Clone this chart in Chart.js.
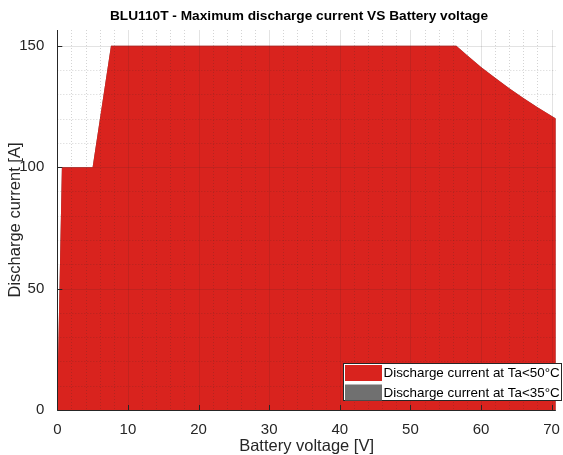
<!DOCTYPE html>
<html>
<head>
<meta charset="utf-8">
<script src="https://cdn.jsdelivr.net/npm/chart.js@4/dist/chart.umd.min.js"></script>
<style>
  html, body { margin: 0; padding: 0; background: #fff; }
  canvas { display: block; }
</style>
</head>
<body>
<canvas id="chart" width="563" height="455"></canvas>
<script>
// ---------------- DATA ----------------
const voltage50 = [0, 0.65, 5.0, 7.6, 56.5, 58, 60, 62, 64, 66, 68, 70.6];
const current50 = [5, 100, 100, 150, 150, 146.2, 141.3, 136.8, 132.5, 128.5, 124.7, 120.1];
// Ta<35 series sits fully hidden behind the red one
const voltage35 = [0, 0.65, 5.0, 7.6, 56.5, 58, 60, 62, 64, 66, 68, 70.6];
const current35 = [5, 100, 100, 150, 150, 146.2, 141.3, 136.8, 132.5, 128.5, 124.7, 120.1];

const xTicks = [0, 10, 20, 30, 40, 50, 60, 70];
const yTicks = [0, 50, 100, 150];
const xMinor = [2, 4, 6, 8, 12, 14, 16, 18, 22, 24, 26, 28, 32, 34, 36, 38, 42, 44, 46, 48, 52, 54, 56, 58, 62, 64, 66, 68];
const yMinor = [10, 20, 30, 40, 60, 70, 80, 90, 110, 120, 130, 140];
const seriesNames = ['Discharge current at Ta<50°C', 'Discharge current at Ta<35°C'];

const RED = 'rgb(217,35,30)';
const GRAY = 'rgb(112,112,112)';
const FONT = '"Liberation Sans", Arial, sans-serif';

const toPts = (xs, ys) => xs.map((x, i) => ({ x: x, y: ys[i] }));

// -------- grid, axes, ticks, title, legend (MATLAB look) --------
const matlabPlugin = {
  id: 'matlab',
  afterDatasetsDraw(chart) {
    const { ctx, chartArea: a, scales: { x, y } } = chart;
    ctx.save();
    // minor grid (dotted)
    ctx.strokeStyle = 'rgba(38,38,38,0.2)';
    ctx.lineWidth = 1;
    ctx.setLineDash([1, 2]);
    xMinor.forEach(v => {
      const px = Math.round(x.getPixelForValue(v)) + 0.5;
      ctx.beginPath(); ctx.moveTo(px, a.top); ctx.lineTo(px, a.bottom); ctx.stroke();
    });
    yMinor.forEach(v => {
      const py = Math.round(y.getPixelForValue(v)) + 0.5;
      ctx.beginPath(); ctx.moveTo(a.left, py); ctx.lineTo(a.right, py); ctx.stroke();
    });
    // major grid
    ctx.setLineDash([]);
    ctx.strokeStyle = 'rgba(38,38,38,0.13)';
    xTicks.forEach(v => {
      const px = Math.round(x.getPixelForValue(v)) + 0.5;
      ctx.beginPath(); ctx.moveTo(px, a.top); ctx.lineTo(px, a.bottom); ctx.stroke();
    });
    yTicks.forEach(v => {
      const py = Math.round(y.getPixelForValue(v)) + 0.5;
      ctx.beginPath(); ctx.moveTo(a.left, py); ctx.lineTo(a.right, py); ctx.stroke();
    });
    // axis lines + inward ticks
    ctx.strokeStyle = '#262626';
    ctx.beginPath();
    ctx.moveTo(Math.round(a.left) + 0.5, a.top);
    ctx.lineTo(Math.round(a.left) + 0.5, Math.round(a.bottom) + 0.5);
    ctx.lineTo(a.right, Math.round(a.bottom) + 0.5);
    ctx.stroke();
    xTicks.forEach(v => {
      const px = Math.round(x.getPixelForValue(v)) + 0.5;
      ctx.beginPath(); ctx.moveTo(px, a.bottom); ctx.lineTo(px, a.bottom - 5); ctx.stroke();
    });
    yTicks.forEach(v => {
      const py = Math.round(y.getPixelForValue(v)) + 0.5;
      ctx.beginPath(); ctx.moveTo(a.left, py); ctx.lineTo(a.left + 5, py); ctx.stroke();
    });
    ctx.restore();
  },
  afterDraw(chart) {
    const { ctx } = chart;
    ctx.save();
    // title
    ctx.fillStyle = '#000';
    ctx.font = 'bold 13.7px ' + FONT;
    ctx.textAlign = 'center';
    ctx.textBaseline = 'middle';
    ctx.fillText('BLU110T - Maximum discharge current VS Battery voltage', 299, 16);

    // legend box
    const lx = 343.5, ly = 363.5, lw = 218, lh = 37;
    ctx.fillStyle = '#fff';
    ctx.fillRect(lx, ly, lw, lh);
    ctx.strokeStyle = '#262626';
    ctx.lineWidth = 1;
    ctx.strokeRect(lx, ly, lw, lh);
    const colors = [RED, GRAY];
    ctx.font = '13.4px ' + FONT;
    ctx.textAlign = 'left';
    seriesNames.forEach((name, i) => {
      const ry = 365 + i * 19.5;
      ctx.fillStyle = colors[i];
      ctx.fillRect(345, ry, 37, 16);
      ctx.fillStyle = '#000';
      ctx.fillText(name, 383.5, ry + 8.5);
    });
    ctx.restore();
  }
};

new Chart(document.getElementById('chart'), {
  type: 'line',
  data: {
    datasets: [
      {
        label: seriesNames[0],
        data: toPts(voltage50, current50),
        backgroundColor: RED,
        borderColor: RED,
        borderWidth: 0,
        pointRadius: 0,
        fill: 'origin',
        order: 0
      },
      {
        label: seriesNames[1],
        data: toPts(voltage35, current35),
        backgroundColor: GRAY,
        borderColor: GRAY,
        borderWidth: 0,
        pointRadius: 0,
        fill: 'origin',
        order: 1
      }
    ]
  },
  options: {
    responsive: false,
    animation: false,
    devicePixelRatio: 1,
    layout: { padding: { top: 30, right: 4.7, left: 0, bottom: 0 } },
    plugins: {
      legend: { display: false },
      title: { display: false },
      tooltip: { enabled: false }
    },
    scales: {
      x: {
        type: 'linear',
        min: 0,
        max: 70.6,
        grid: { display: false },
        border: { display: false },
        afterBuildTicks: s => { s.ticks = xTicks.map(v => ({ value: v })); },
        afterFit: s => { s.height = 45; },
        ticks: {
          color: '#262626',
          font: { family: FONT, size: 15 },
          padding: 3,
          maxRotation: 0
        },
        title: {
          display: true,
          text: 'Battery voltage [V]',
          color: '#262626',
          font: { family: FONT, size: 16.5 },
          padding: { top: 0, bottom: -1 }
        }
      },
      y: {
        type: 'linear',
        min: 0,
        max: 156.5,
        grid: { display: false },
        border: { display: false },
        afterBuildTicks: s => { s.ticks = yTicks.map(v => ({ value: v })); },
        afterFit: s => { s.width = 57.3; },
        ticks: {
          color: '#262626',
          font: { family: FONT, size: 15 },
          padding: 5
        },
        title: {
          display: true,
          text: 'Discharge current [A]',
          color: '#262626',
          font: { family: FONT, size: 16.5 },
          padding: { top: 6, bottom: 0 }
        }
      }
    }
  },
  plugins: [matlabPlugin]
});
</script>
</body>
</html>
